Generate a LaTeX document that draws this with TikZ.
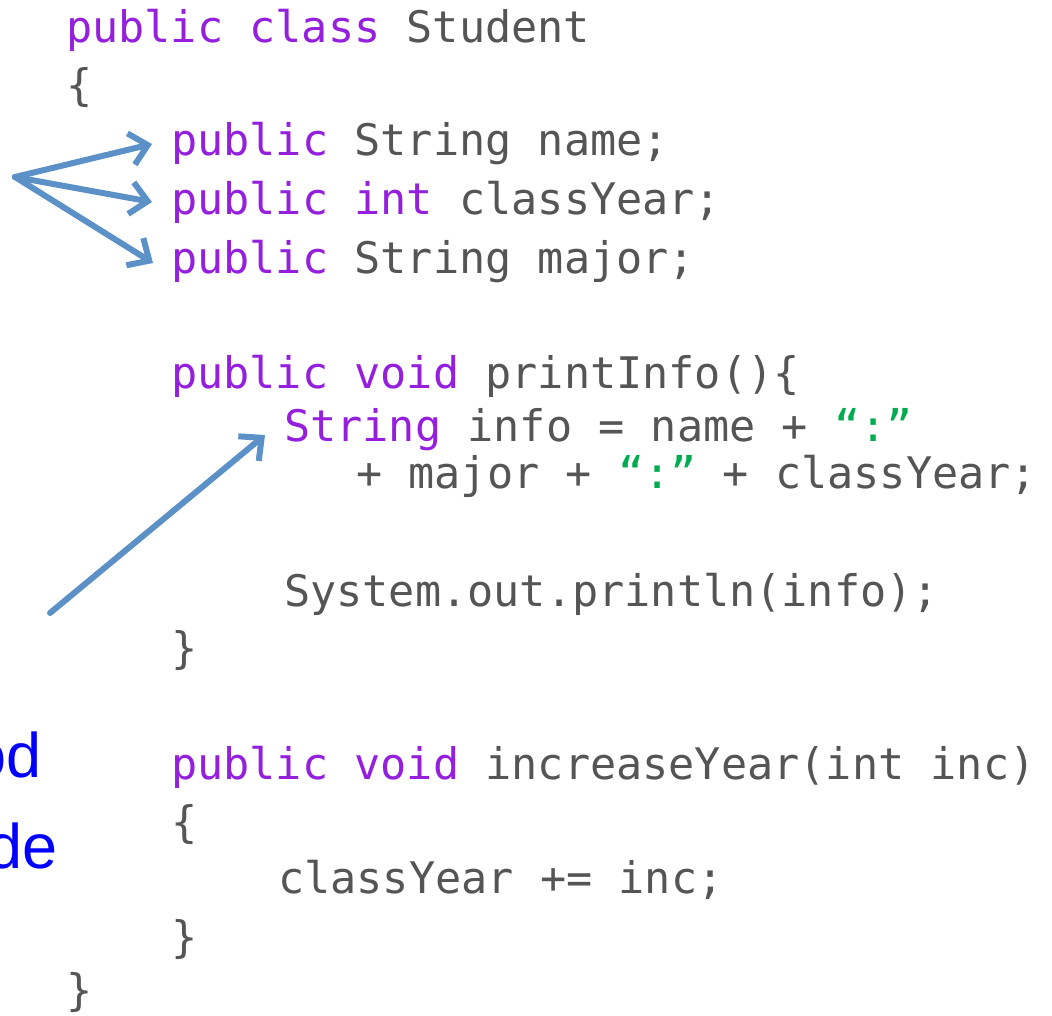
\documentclass[tikz,border=0pt]{standalone}
\usepackage{fontspec}
\usetikzlibrary{arrows.meta}

\newfontfamily\codefont{DejaVu Sans Mono}
\newfontfamily\notefont{Liberation Sans}

\definecolor{kwpurple}{RGB}{148,32,222}
\definecolor{codegray}{RGB}{85,85,85}
\definecolor{strgreen}{RGB}{0,172,80}
\definecolor{arrowblue}{RGB}{92,145,200}
\definecolor{noteblue}{RGB}{0,0,255}

\newcommand{\kw}[1]{\textcolor{kwpurple}{#1}}
\newcommand{\str}[1]{\textcolor{strgreen}{#1}}

\begin{document}
\begin{tikzpicture}[x=1pt,y=-1pt,
    code/.style={anchor=base west,inner sep=0pt,text=codegray,
        font=\codefont\fontsize{43.5}{52}\selectfont\frenchspacing},
    note/.style={anchor=base east,inner sep=0pt,text=noteblue,
        font=\notefont\fontsize{63}{70}\selectfont},
    ptr/.style={draw=arrowblue,line width=6pt,line cap=round,line join=round,
        -{Straight Barb[length=17pt,width=32pt]}}]
    \useasboundingbox (0,0) rectangle (1052,1015);
    \clip (0,0) rectangle (1052,1015);

    % class header
    \node[code] (head) at (66,42) {\kw{public class} Student};
    \node[code] (open) at (66,100) {\{};

    % fields
    \node[code] (fname) at (171,155) {\kw{public} String name;};
    \node[code] (fyear) at (171,214) {\kw{public int} classYear;};
    \node[code] (fmajor) at (171,273) {\kw{public} String major;};

    % printInfo
    \node[code] (mprint) at (171,388) {\kw{public void} printInfo()\{};
    \node[code] (info) at (284,441) {\kw{String} info = name + \str{“:”}};
    \node[code] (infob) at (356,488) {+ major + \str{“:”} + classYear;};
    \node[code] (println) at (284,606) {System.out.println(info);};
    \node[code] (closep) at (171,663) {\}};

    % increaseYear
    \node[code] (minc) at (171,779) {\kw{public void} increaseYear(int inc)};
    \node[code] (openi) at (171,837) {\{};
    \node[code] (incr) at (278,893) {classYear += inc;};
    \node[code] (closei) at (171,952) {\}};
    \node[code] (close) at (66,1005) {\}};

    % cut-off labels on the left
    \node[note] (lbla) at (42,777) {od};
    \node[note] (lblb) at (58,868) {de};

    % pointers
    \coordinate (fork) at (15,177);
    \coordinate (tail) at (50,613);
    \draw[ptr] (fork) -- ([shift={(-19pt,11pt)}]fname.base west);
    \draw[ptr] (fork) -- ([shift={(-19pt,12pt)}]fyear.base west);
    \draw[ptr] (fork) -- ([shift={(-18pt,10pt)}]fmajor.base west);
    \draw[ptr] (tail) -- ([shift={(-19pt,6pt)}]info.base west);
\end{tikzpicture}
\end{document}
